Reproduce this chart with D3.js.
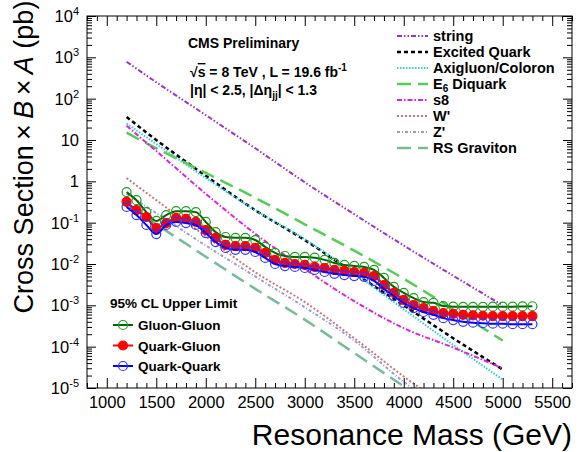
<!DOCTYPE html>
<html lang="en">
<head>
	<meta charset="utf-8">
	<title>Dijet resonance limits</title>
	<style>
		body { margin: 0; background: #fff; }
		svg text { font-family: "Liberation Sans", Arial, Helvetica, sans-serif; fill: #000; }
		.axis path { display: none; }
		.axis line { stroke: #000; stroke-width: 1; }
		.axis text { font-size: 16.5px; }
		.leg { font-size: 14.5px; font-weight: bold; }
		.leg2 { font-size: 13.5px; font-weight: bold; }
	</style>
</head>
<body>
	<div id="chart"></div>

	<script src="https://cdn.jsdelivr.net/npm/d3@7/dist/d3.min.js"></script>
	<script>
		// theory curves (pb)
		var theoryMass = [1200, 1500, 2000, 2500, 3000, 3500, 4000, 4500, 5000];
		var stringXs   = [780, 250, 40, 6.3, 0.95, 0.16, 0.028, 0.0052, 0.001];
		var excitedQ   = [36, 10, 1.36, 0.2, 0.038, 0.006, 0.001, 1.6e-4, 2.8e-5];
		var axigluon   = [25, 8, 1.2, 0.2, 0.04, 0.006, 8e-4, 1.1e-4, 1.6e-5];
		var diquark    = [15, 6.3, 1.6, 0.4, 0.091, 0.021, 0.0044, 8e-4, 1.4e-4];
		var s8         = [22, 5.4, 0.5, 0.054, 0.0076, 0.00126, 2.8e-4, 9.5e-5, 3e-5];
		var wPrime     = [1.2, 0.35, 0.047, 0.0063, 0.0012, 1.6e-4, 1.9e-5, 2.8e-6, null];
		var zPrime     = [0.5, 0.17, 0.028, 0.005, 9e-4, 1.4e-4, 1.4e-5, 2e-6, null];
		var rsGraviton = [0.27, 0.091, 0.015, 0.0025, 4.5e-4, 7e-5, 1.1e-5, 1.8e-6, null];

		// observed 95% CL upper limits (pb)
		var limitMass = [1200, 1300, 1400, 1500, 1600, 1700, 1800, 1900, 2000, 2100, 2200, 2300, 2400, 2500,
			2600, 2700, 2800, 2900, 3000, 3100, 3200, 3300, 3400, 3500, 3600, 3700, 3800, 3900, 4000, 4100,
			4200, 4300, 4400, 4500, 4600, 4700, 4800, 4900, 5000, 5100, 5200, 5300];
		var gluonGluon = [0.55, 0.35, 0.18, 0.11, 0.153, 0.19, 0.19, 0.18, 0.104, 0.059, 0.045, 0.043, 0.043, 0.038,
			0.026, 0.0185, 0.0156, 0.0148, 0.0148, 0.0142, 0.0126, 0.0106, 0.0095, 0.009, 0.0085, 0.0072, 0.0046, 0.0028, 0.002, 0.0015,
			0.0012, 0.00115, 0.00096, 0.00093, 0.00092, 0.00092, 0.00092, 0.00093, 0.00093, 0.00093, 0.00094, 0.00095];
		var quarkGluon = [0.32, 0.2, 0.137, 0.074, 0.098, 0.13, 0.123, 0.104, 0.066, 0.043, 0.029, 0.027, 0.027, 0.0245,
			0.0185, 0.0126, 0.0106, 0.01, 0.0095, 0.0085, 0.008, 0.0072, 0.0068, 0.0064, 0.0061, 0.0051, 0.0031, 0.002, 0.00135, 0.00102,
			0.00086, 0.00073, 0.00065, 0.00062, 0.00059, 0.00057, 0.00056, 0.00055, 0.00055, 0.00055, 0.00055, 0.00055];
		var quarkQuark = [0.24, 0.153, 0.088, 0.053, 0.088, 0.104, 0.098, 0.088, 0.056, 0.034, 0.0245, 0.022, 0.022, 0.0195,
			0.014, 0.01, 0.0089, 0.0085, 0.008, 0.0072, 0.0064, 0.0058, 0.0054, 0.0051, 0.0049, 0.0039, 0.0025, 0.00168, 0.00114, 0.00086,
			0.00069, 0.00059, 0.00049, 0.00044, 0.0004, 0.00038, 0.00037, 0.00036, 0.00036, 0.00035, 0.00035, 0.00035];

		var xTicks = [1000, 1500, 2000, 2500, 3000, 3500, 4000, 4500, 5000, 5500];
		var yDecades = [1e-5, 1e-4, 1e-3, 1e-2, 1e-1, 1, 10, 1e2, 1e3, 1e4];

		var width = 579,
		    height = 452,
		    fLeft = 87, fRight = 572, fTop = 16, fBottom = 388;

		var svg = d3.select("#chart")
				.append("svg")
				.attr("width", width)
				.attr("height", height);

		var x = d3.scaleLinear().domain([800, 5700]).range([fLeft, fRight]);
		var y = d3.scaleLog().domain([1e-5, 1e4]).range([fBottom, fTop]);

		svg.append("clipPath").attr("id", "frame")
			.append("rect").attr("x", fLeft).attr("y", fTop)
			.attr("width", fRight - fLeft).attr("height", fBottom - fTop);

		var plot = svg.append("g").attr("clip-path", "url(#frame)");

		var models = [
			{ name: "string", vals: stringXs, color: "#9933cc", dash: "5,2,1.5,2,1.5,2", w: 2 },
			{ name: "Excited Quark", vals: excitedQ, color: "#000", dash: "4,3", w: 2.5 },
			{ name: "Axigluon/Coloron", vals: axigluon, color: "#33ccdd", dash: "1.5,1.5", w: 2 },
			{ name: "E6 Diquark", vals: diquark, color: "#55cc55", dash: "14,7", w: 2.5 },
			{ name: "s8", vals: s8, color: "#dd22dd", dash: "5,2,1.5,2", w: 2 },
			{ name: "W'", vals: wPrime, color: "#cc7777", dash: "2,2", w: 2 },
			{ name: "Z'", vals: zPrime, color: "#9999dd", dash: "3,2,1,2", w: 2 },
			{ name: "RS Graviton", vals: rsGraviton, color: "#77bb99", dash: "14,7", w: 2.5 }
		];

		var line = d3.line()
			.defined(function(d) { return d[1] != null; })
			.x(function(d) { return x(d[0]); })
			.y(function(d) { return y(d[1]); })
			.curve(d3.curveMonotoneX);

		models.forEach(function(m) {
			plot.append("path")
				.attr("d", line(theoryMass.map(function(t, i) { return [t, m.vals[i]]; })))
				.attr("fill", "none")
				.attr("stroke", m.color)
				.attr("stroke-width", m.w)
				.attr("stroke-dasharray", m.dash);
		});

		var limits = [
			{ name: "Gluon-Gluon", vals: gluonGluon, line: "#006600", mark: "#229922", fill: "none" },
			{ name: "Quark-Gluon", vals: quarkGluon, line: "#ff0000", mark: "#ff0000", fill: "#ff0000" },
			{ name: "Quark-Quark", vals: quarkQuark, line: "#0000ff", mark: "#3333ff", fill: "none" }
		];

		limits.forEach(function(s) {
			var pts = limitMass.map(function(t, i) { return [t, s.vals[i]]; });
			plot.append("path")
				.attr("d", line(pts))
				.attr("fill", "none")
				.attr("stroke", s.line)
				.attr("stroke-width", 2);
			plot.selectAll(null)
				.data(pts)
			.enter().append("circle")
				.attr("cx", function(d) { return x(d[0]); })
				.attr("cy", function(d) { return y(d[1]); })
				.attr("r", 4.5)
				.attr("fill", s.fill)
				.attr("stroke", s.mark)
				.attr("stroke-width", 1.2);
		});

		// axes: ROOT style, ticks inward on all four sides
		var xMinor = d3.range(800, 5701, 100).filter(function(v) { return v % 500 != 0; });
		var yMinor = [];
		yDecades.slice(0, -1).forEach(function(d) {
			for (var k = 2; k < 10; k++) yMinor.push(d * k);
		});

		svg.append("g").attr("class", "axis").attr("transform", "translate(0," + fBottom + ")")
			.call(d3.axisBottom(x).tickValues(xTicks).tickSize(-10).tickPadding(8).tickFormat(d3.format("d")));
		svg.append("g").attr("class", "axis").attr("transform", "translate(0," + fBottom + ")")
			.call(d3.axisBottom(x).tickValues(xMinor).tickSize(-5).tickFormat(""));
		svg.append("g").attr("class", "axis").attr("transform", "translate(0," + fTop + ")")
			.call(d3.axisTop(x).tickValues(xTicks).tickSize(-10).tickFormat(""));
		svg.append("g").attr("class", "axis").attr("transform", "translate(0," + fTop + ")")
			.call(d3.axisTop(x).tickValues(xMinor).tickSize(-5).tickFormat(""));

		svg.append("g").attr("class", "axis").attr("transform", "translate(" + fLeft + ",0)")
			.call(d3.axisLeft(y).tickValues(yDecades).tickSize(-9).tickFormat(""));
		svg.append("g").attr("class", "axis").attr("transform", "translate(" + fLeft + ",0)")
			.call(d3.axisLeft(y).tickValues(yMinor).tickSize(-5).tickFormat(""));
		svg.append("g").attr("class", "axis").attr("transform", "translate(" + fRight + ",0)")
			.call(d3.axisRight(y).tickValues(yDecades).tickSize(-9).tickFormat(""));
		svg.append("g").attr("class", "axis").attr("transform", "translate(" + fRight + ",0)")
			.call(d3.axisRight(y).tickValues(yMinor).tickSize(-5).tickFormat(""));

		svg.append("rect")
			.attr("x", fLeft).attr("y", fTop)
			.attr("width", fRight - fLeft).attr("height", fBottom - fTop)
			.attr("fill", "none").attr("stroke", "#000").attr("stroke-width", 1);

		// y tick labels with exponents
		yDecades.forEach(function(d) {
			var e = Math.round(Math.log10(d));
			var t = svg.append("text")
				.attr("x", 79).attr("y", y(d) + 6)
				.attr("text-anchor", "end")
				.style("font-size", "16.5px");
			if (e == 0) t.text("1");
			else if (e == 1) t.text("10");
			else {
				t.append("tspan").text("10");
				t.append("tspan").attr("dy", -7).style("font-size", "11px").text(e);
			}
		});

		// axis titles
		svg.append("text")
			.attr("x", 572).attr("y", 445)
			.attr("text-anchor", "end")
			.style("font-size", "30px")
			.text("Resonance Mass (GeV)");

		var yt = svg.append("text")
			.attr("transform", "translate(33,157) rotate(-90)")
			.attr("text-anchor", "middle")
			.style("font-size", "27px");
		yt.append("tspan").text("Cross Section\u2009\u00d7\u2009");
		yt.append("tspan").style("font-style", "italic").text("B");
		yt.append("tspan").text("\u2009\u00d7\u2009");
		yt.append("tspan").style("font-style", "italic").text("A");
		yt.append("tspan").text(" (pb)");

		// header text
		svg.append("text").attr("class", "leg").attr("x", 188).attr("y", 48)
			.style("font-size", "14px").text("CMS Preliminary");
		var t1 = svg.append("text").attr("class", "leg").attr("x", 190).attr("y", 77)
			.style("font-size", "14px");
		t1.append("tspan").text("\u221a");
		t1.append("tspan").style("text-decoration", "overline").text("s");
		t1.append("tspan").text(" = 8 TeV , L = 19.6 fb");
		t1.append("tspan").attr("dy", -6).style("font-size", "10px").text("-1");
		var t2 = svg.append("text").attr("class", "leg").attr("x", 190).attr("y", 95)
			.style("font-size", "14px");
		t2.append("tspan").text("|\u03b7| < 2.5, |\u0394\u03b7");
		t2.append("tspan").attr("dy", 4).style("font-size", "10px").text("jj");
		t2.append("tspan").attr("dy", -4).text("| < 1.3");

		// theory legend
		models.forEach(function(m, i) {
			var ly = 36 + i * 16;
			svg.append("line")
				.attr("x1", 397).attr("x2", 428).attr("y1", ly).attr("y2", ly)
				.attr("stroke", m.color).attr("stroke-width", m.w)
				.attr("stroke-dasharray", m.dash);
			var t = svg.append("text").attr("class", "leg").attr("x", 433).attr("y", ly + 5);
			if (m.name == "E6 Diquark") {
				t.append("tspan").text("E");
				t.append("tspan").attr("dy", 3).style("font-size", "10px").text("6");
				t.append("tspan").attr("dy", -3).text(" Diquark");
			} else t.text(m.name);
		});

		// limit legend
		svg.append("text").attr("class", "leg2").attr("x", 110).attr("y", 308).text("95% CL Upper Limit");
		limits.forEach(function(s, i) {
			var ly = 325 + i * 20.5;
			svg.append("line")
				.attr("x1", 113).attr("x2", 133).attr("y1", ly).attr("y2", ly)
				.attr("stroke", s.line).attr("stroke-width", 2);
			svg.append("circle")
				.attr("cx", 123).attr("cy", ly).attr("r", 4.5)
				.attr("fill", s.fill).attr("stroke", s.mark).attr("stroke-width", 1.2);
			svg.append("text").attr("class", "leg2").attr("x", 138).attr("y", ly + 5).text(s.name);
		});
	</script>
</body>
</html>
